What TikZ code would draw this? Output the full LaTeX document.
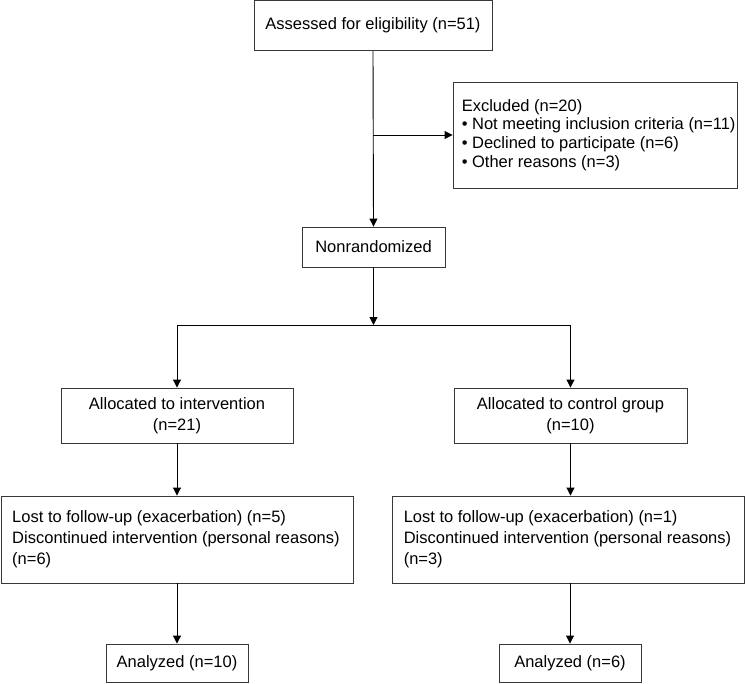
\documentclass[tikz,border=0pt]{standalone}
\usepackage{fontspec}
\setmainfont{Liberation Sans}
\usetikzlibrary{arrows.meta}
\begin{document}
\begin{tikzpicture}[x=1pt,y=-1pt,
  box/.style={draw=black!78, line width=0.9pt, fill=white, inner sep=0pt, align=center,
    font=\fontsize{16.5}{20.5}\selectfont},
  lbl/.style={inner sep=0pt, align=left, anchor=west},
  conn/.style={line width=0.9pt, draw=black},
  arr/.style={conn, -{Triangle[length=8pt,width=8pt]}}]
\useasboundingbox (0,0) rectangle (746,683);
% boxes
\node[box, minimum width=238, minimum height=50] (assess) at (373,25.5) {Assessed for eligibility (n=51)};
\node[box, minimum width=284, minimum height=106] (excl) at (595,135) {};
\node[lbl, font=\fontsize{16.5}{18.8}\selectfont] (exclt) at ([xshift=9pt]excl.west)
  {Excluded (n=20)\\• Not meeting inclusion criteria (n=11)\\• Declined to participate (n=6)\\• Other reasons (n=3)};
\node[box, minimum width=143, minimum height=40] (nonrand) at (373.5,247) {Nonrandomized};
\node[box, minimum width=232, minimum height=55] (alloc1) at (177,415.5) {Allocated to intervention\\(n=21)};
\node[box, minimum width=233, minimum height=55] (alloc2) at (570.5,415.5) {Allocated to control group\\(n=10)};
\node[box, minimum width=352, minimum height=87] (lost1) at (177,539.5) {};
\node[lbl, font=\fontsize{16.5}{21}\selectfont] (lost1t) at ([xshift=11.5pt]lost1.west)
  {Lost to follow-up (exacerbation) (n=5)\\Discontinued intervention (personal reasons)\\(n=6)};
\node[box, minimum width=352, minimum height=87] (lost2) at (568.5,539.5) {};
\node[lbl, font=\fontsize{16.5}{21}\selectfont] (lost2t) at ([xshift=11.5pt]lost2.west)
  {Lost to follow-up (exacerbation) (n=1)\\Discontinued intervention (personal reasons)\\(n=3)};
\node[box, minimum width=142, minimum height=38] (an1) at (177,663) {Analyzed (n=10)};
\node[box, minimum width=142, minimum height=38] (an2) at (570,663) {Analyzed (n=6)};
% connectors
\coordinate (branch) at (assess.south |- excl.west);
\coordinate (split) at (373.5,325);
\coordinate (splitL) at (alloc1.north |- split);
\coordinate (splitR) at (alloc2.north |- split);
\draw[arr] (assess.south) -- (nonrand.north);
\draw[arr] (branch) -- (excl.west);
\draw[arr] (nonrand.south) -- (split);
\draw[conn] (splitL) -- (splitR);
\draw[arr] (splitL) -- (alloc1.north);
\draw[arr] (splitR) -- (alloc2.north);
\draw[arr] (alloc1.south) -- (alloc1.south |- lost1.north);
\draw[arr] (alloc2.south) -- (alloc2.south |- lost2.north);
\draw[arr] (an1.north |- lost1.south) -- (an1.north);
\draw[arr] (an2.north |- lost2.south) -- (an2.north);
\end{tikzpicture}
\end{document}
